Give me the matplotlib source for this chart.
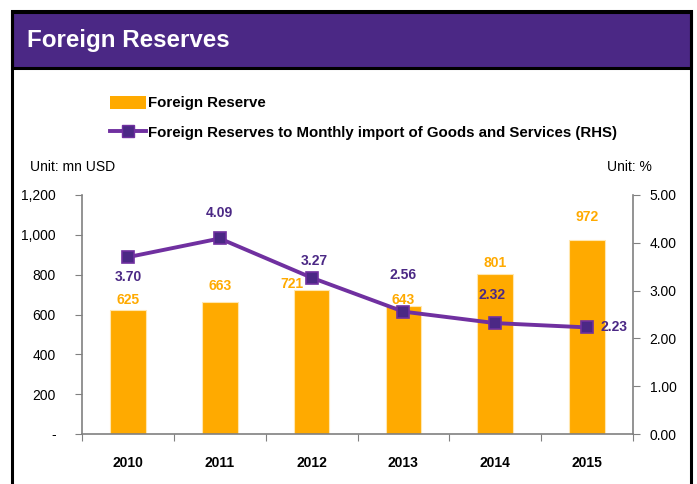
import matplotlib
matplotlib.use('Agg')
import matplotlib.pyplot as plt
from matplotlib.patches import Rectangle
from matplotlib.lines import Line2D
from matplotlib.ticker import FixedLocator, FuncFormatter

plt.rcParams['font.family'] = ['Liberation Sans', 'DejaVu Sans']

years = ['2010', '2011', '2012', '2013', '2014', '2015']
reserves = [625, 663, 721, 643, 801, 972]
import_cover = [3.70, 4.09, 3.27, 2.56, 2.32, 2.23]

# offsets (points) for the value labels
bar_label_offsets = [(0, 7), (0, 11.5), (-14, 4.5), (0, 4.5), (0, 8.5), (0, 16.5)]
line_label_offsets = [(0, -14.5), (0, 18.5), (2, 12), (0, 26.5), (-2, 20), (19.5, 0)]

ORANGE = '#FFAA00'
PURPLE = '#7030A0'
DARK_PURPLE = '#4B2885'
GREY = '#808080'

fig = plt.figure(figsize=(6.97, 4.84), dpi=100)

# frame and header band
fig.patches.append(Rectangle((12 / 697, 1 - 68 / 484), 679 / 697, 56 / 484,
                             transform=fig.transFigure, facecolor=DARK_PURPLE,
                             edgecolor='black', linewidth=2.2, zorder=1))
fig.patches.append(Rectangle((12 / 697, -0.05), 679 / 697, 1.05 - 11 / 484,
                             transform=fig.transFigure, fill=False,
                             edgecolor='black', linewidth=2.2, zorder=2))
fig.text(27 / 697, 1 - 40 / 484, 'Foreign Reserves', color='white',
         fontsize=17.4, fontweight='bold', va='center', ha='left', zorder=6)

ax = fig.add_axes([82 / 697, 1 - 434 / 484, 551 / 697, 239 / 484])
ax2 = ax.twinx()

x = list(range(len(years)))
bars = ax.bar(x, reserves, width=0.39, color=ORANGE, edgecolor='#FFE7B0',
              linewidth=0.8, zorder=2)
ax.set_xlim(-0.5, len(years) - 0.5)
ax.set_ylim(0, 1200)
ax.set_yticks(range(0, 1201, 200))
ax.yaxis.set_major_formatter(FuncFormatter(lambda v, p: '-' if v == 0 else f'{int(v):,}'))

ax.xaxis.set_major_locator(FixedLocator([i - 0.5 for i in range(len(years) + 1)]))
ax.xaxis.set_minor_locator(FixedLocator(x))
ax.set_xticklabels([], minor=False)
ax.set_xticklabels(years, minor=True, fontweight='bold', fontsize=10)
ax.tick_params(axis='x', which='major', length=5, color=GREY, direction='out')
ax.tick_params(axis='x', which='minor', length=0, pad=16)
ax.tick_params(axis='y', length=5, color=GREY, pad=14, labelsize=10)

ax2.plot(x, import_cover, color=PURPLE, linewidth=2.8, marker='s',
         markersize=9, markerfacecolor=DARK_PURPLE, markeredgecolor=PURPLE,
         markeredgewidth=1.2, zorder=3)
ax2.set_ylim(0, 5)
ax2.set_yticks([0, 1, 2, 3, 4, 5])
ax2.yaxis.set_major_formatter(FuncFormatter(lambda v, p: f'{v:.2f}'))
ax2.tick_params(axis='y', length=5, color=GREY, pad=7, labelsize=10)

for a in (ax, ax2):
    a.spines['top'].set_visible(False)
    for side in ('left', 'right', 'bottom'):
        a.spines[side].set_color(GREY)
        a.spines[side].set_linewidth(1.2)
ax.spines['right'].set_visible(False)
ax2.spines['left'].set_visible(False)
ax2.spines['bottom'].set_visible(False)

for i, v in enumerate(reserves):
    ax.annotate(f'{v}', (i, v), xytext=bar_label_offsets[i], textcoords='offset points',
                ha='center', va='center', color=ORANGE, fontweight='bold', fontsize=10)
for i, v in enumerate(import_cover):
    ax2.annotate(f'{v:.2f}', (i, v), xytext=line_label_offsets[i], textcoords='offset points',
                 ha='center', va='center', color=DARK_PURPLE, fontweight='bold', fontsize=10)

fig.text(30 / 697, 1 - 167 / 484, 'Unit: mn USD', fontsize=10, va='center', ha='left')
fig.text(652 / 697, 1 - 167 / 484, 'Unit: %', fontsize=10, va='center', ha='right')

handles = [Rectangle((0, 0), 1, 1, facecolor=ORANGE),
           Line2D([0], [0], color=PURPLE, linewidth=2.8, marker='s', markersize=9,
                  markerfacecolor=DARK_PURPLE, markeredgecolor=PURPLE)]
labels = ['Foreign Reserve',
          'Foreign Reserves to Monthly import of Goods and Services (RHS)']
fig.legend(handles, labels, loc='upper left', bbox_to_anchor=(96 / 697, 1 - 82 / 484),
           frameon=False, prop={'weight': 'bold', 'size': 10.85},
           handlelength=2.4, handleheight=1.0, handletextpad=0.15, labelspacing=0.95)

fig.savefig('out.png', dpi=100)
